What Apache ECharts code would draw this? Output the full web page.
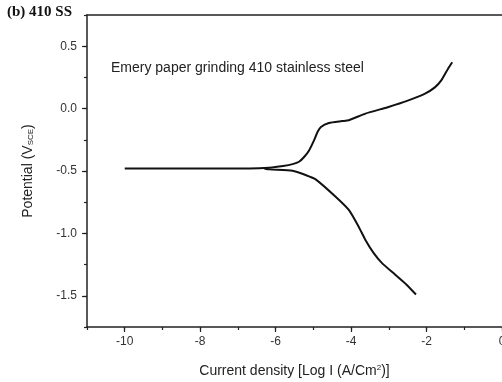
<!DOCTYPE html>
<html>
<head>
<meta charset="utf-8">
<script src="https://cdn.jsdelivr.net/npm/echarts@6/dist/echarts.min.js"></script>
<style>
  html, body { margin: 0; padding: 0; background: #fff; }
  #chart { width: 502px; height: 382px; }
</style>
</head>
<body>
<div id="chart"></div>
<script>
// anodic branch (includes the flat part left of Ecorr)
var anodicLogI = [-10, -9, -8, -7, -6.69, -6.17, -5.8, -5.55, -5.38, -5.24, -5.11, -4.98, -4.89, -4.8, -4.59, -4.24, -4.06, -3.62, -3.01, -2.48, -2.04, -1.78, -1.61, -1.43, -1.32];
var anodicE = [-0.48, -0.48, -0.48, -0.48, -0.48, -0.474, -0.46, -0.445, -0.426, -0.386, -0.333, -0.253, -0.187, -0.147, -0.115, -0.1, -0.093, -0.04, 0.013, 0.066, 0.12, 0.17, 0.226, 0.32, 0.372];
// cathodic branch
var cathodicLogI = [-6.3, -6.17, -5.55, -5.2, -4.94, -4.41, -4.06, -3.8, -3.62, -3.4, -3.18, -2.83, -2.53, -2.28];
var cathodicE = [-0.48, -0.487, -0.498, -0.533, -0.567, -0.706, -0.812, -0.946, -1.052, -1.158, -1.238, -1.331, -1.411, -1.49];

var xMajor = [-10, -8, -6, -4, -2, 0];
var yMajor = [-1.5, -1.0, -0.5, 0.0, 0.5];

function pairs(xs, ys) {
  return xs.map(function (x, i) { return [x, ys[i]]; });
}

var axisColor = '#222';
var labelColor = '#333';
var sans = 'Liberation Sans, Arial, sans-serif';

var chart = echarts.init(document.getElementById('chart'));
chart.setOption({
  backgroundColor: '#fff',
  animation: false,
  title: {
    text: '(b) 410 SS',
    left: 2,
    top: 0,
    textStyle: { fontFamily: 'Liberation Serif, Times New Roman, serif', fontWeight: 'bold', fontSize: 15, color: '#111' }
  },
  grid: { left: 87, top: 15, right: 0, bottom: 55, outerBoundsMode: 'none', containLabel: false },
  graphic: [{
    type: 'text',
    left: 111,
    top: 61,
    style: { text: 'Emery paper grinding 410 stainless steel', fontSize: 14, fontFamily: sans, fill: '#222' }
  }],
  xAxis: [{
    type: 'value',
    min: -11, max: 0, interval: 1,
    name: 'Current density [Log I (A/Cm{sup|2})]',
    nameLocation: 'middle',
    nameGap: 37,
    nameTextStyle: {
      fontSize: 14, fontFamily: sans, color: '#222',
      rich: { sup: { fontSize: 8, fontFamily: sans, color: '#222', verticalAlign: 'top' } }
    },
    axisLine: { onZero: false, lineStyle: { color: axisColor, width: 1.5 } },
    axisTick: { inside: false, length: 3, lineStyle: { color: axisColor, width: 1.2 } },
    axisLabel: {
      margin: 9, fontSize: 12, fontFamily: sans, color: labelColor, showMaxLabel: true,
      formatter: function (v) { return xMajor.indexOf(v) >= 0 ? String(v) : ''; }
    },
    splitLine: { show: false }
  }, {
    type: 'value',
    position: 'bottom',
    min: -11, max: 0,
    axisLine: { show: false, onZero: false },
    axisTick: { show: true, length: 5, customValues: xMajor, lineStyle: { color: axisColor, width: 1.2 } },
    axisLabel: { show: false },
    splitLine: { show: false }
  }, {
    // top frame line
    type: 'value',
    position: 'top',
    min: -11, max: 0,
    axisLine: { show: true, onZero: false, lineStyle: { color: axisColor, width: 1.5 } },
    axisTick: { show: false },
    axisLabel: { show: false },
    splitLine: { show: false }
  }],
  yAxis: [{
    type: 'value',
    min: -1.75, max: 0.75, interval: 0.25,
    name: 'Potential (V{sub|SCE})',
    nameLocation: 'middle',
    nameGap: 52,
    nameTextStyle: {
      fontSize: 14, fontFamily: sans, color: '#222',
      rich: { sub: { fontSize: 8, fontFamily: sans, color: '#222', verticalAlign: 'bottom' } }
    },
    axisLine: { show: true, onZero: false, lineStyle: { color: axisColor, width: 1.5 } },
    axisTick: { show: true, length: 3, lineStyle: { color: axisColor, width: 1.2 } },
    axisLabel: {
      margin: 10, fontSize: 12, fontFamily: sans, color: labelColor,
      formatter: function (v) {
        return yMajor.some(function (m) { return Math.abs(m - v) < 1e-9; }) ? v.toFixed(1) : '';
      }
    },
    splitLine: { show: false }
  }, {
    type: 'value',
    position: 'left',
    min: -1.75, max: 0.75,
    axisLine: { show: false, onZero: false },
    axisTick: { show: true, length: 5, customValues: yMajor, lineStyle: { color: axisColor, width: 1.2 } },
    axisLabel: { show: false },
    splitLine: { show: false }
  }],
  series: [{
    name: 'anodic',
    type: 'line',
    data: pairs(anodicLogI, anodicE),
    showSymbol: false,
    smooth: 0.2,
    lineStyle: { color: '#111', width: 2 }
  }, {
    name: 'cathodic',
    type: 'line',
    data: pairs(cathodicLogI, cathodicE),
    showSymbol: false,
    smooth: 0.2,
    lineStyle: { color: '#111', width: 2 }
  }]
});
</script>
</body>
</html>
